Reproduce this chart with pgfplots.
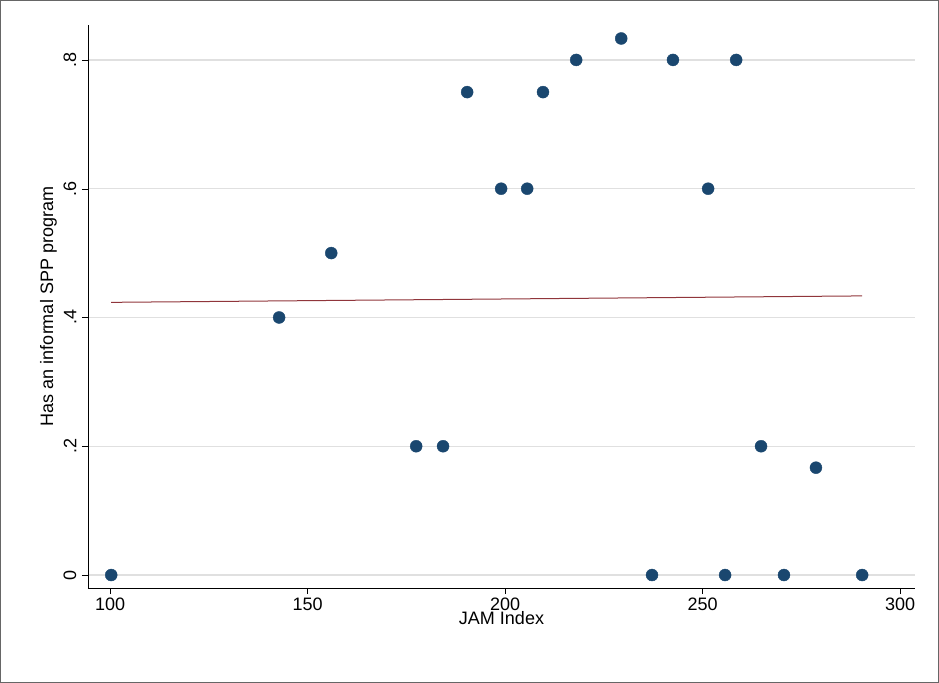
\documentclass[border=0pt]{standalone}
\usepackage{pgfplots}
\pgfplotsset{compat=1.18}
\usepackage{fontspec}
\setmainfont{Liberation Sans}
\definecolor{stnavy}{HTML}{1A476F}
\definecolor{stmaroon}{HTML}{90353B}
\begin{document}
\begin{tikzpicture}[x=1pt,y=1pt]
\draw[black!60,line width=0.8pt] (-87.5,-94.5) rectangle (850.5,587.5);
\begin{axis}[at={(0,0)},anchor=south west,scale only axis,width=827pt,height=563pt,
 xmin=94.4,xmax=303.8,ymin=-0.0202,ymax=0.8544,
 xtick={100,150,...,300},ytick={0,0.2,0.4,0.6,0.8},
 yticklabels={0,.2,.4,.6,.8},
 yticklabel style={rotate=90,anchor=south,yshift=2pt},
 ymajorgrids, grid style={black!12,line width=1.2pt},
 axis x line*=bottom, axis y line*=left,
 tick style={black}, tick align=outside,
 major tick length=6pt,
 ticklabel style={font=\fontsize{18}{20}\selectfont},
 label style={font=\fontsize{18}{20}\selectfont},
 /pgf/number format/assume math mode=true,
 xlabel={JAM Index}, ylabel={Has an informal SPP program},
 xlabel style={yshift=6pt}, ylabel style={yshift=0pt},
 clip=false]
\addplot[only marks,mark=*,mark size=6pt,draw=stnavy,fill=stnavy] coordinates {
(100.3,0)(142.8,0.4)(156.0,0.5)(177.5,0.2)(184.3,0.2)(190.4,0.75)(199.0,0.6)
(205.6,0.6)(209.6,0.75)(218.0,0.8)(229.4,0.8333)(237.2,0)(242.5,0.8)(251.4,0.6)
(255.7,0)(258.5,0.8)(264.8,0.2)(270.6,0)(278.7,0.1667)(290.4,0)};
\addplot[stmaroon,line width=1pt] coordinates {(100.3,0.4235)(290.4,0.4335)};
\end{axis}
\end{tikzpicture}
\end{document}
